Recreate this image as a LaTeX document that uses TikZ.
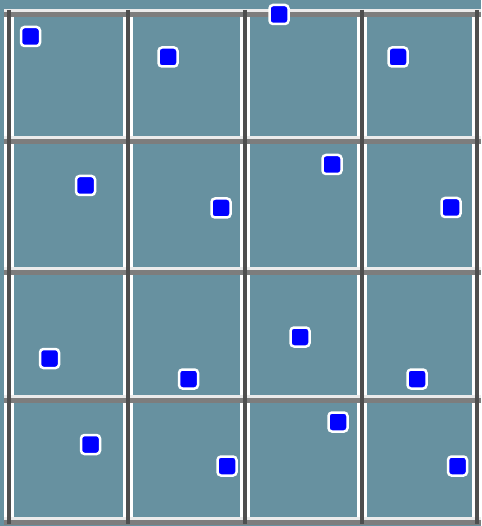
\documentclass[tikz,border=0pt]{standalone}
\definecolor{cellteal}{RGB}{103,145,160}
\definecolor{linedark}{RGB}{78,78,78}
\definecolor{linegrey}{RGB}{125,125,125}
\definecolor{linelight}{RGB}{235,235,235}
\begin{document}
\begin{tikzpicture}[x=1pt,y=-1pt,
  dot/.style={draw=white,fill=blue,line width=2.5pt,rounded corners=3.5pt,minimum size=19pt,inner sep=0pt}]
\fill[cellteal] (0,0) rectangle (481,526);
\useasboundingbox (0,0) rectangle (481,526);
\foreach \x in {9,128,245,362,477}
  \draw[white,line width=10pt] (\x,10) -- (\x,524);
\foreach \y in {13,140,271,399,521} {
  \draw[linelight,line width=3pt] (4,\y-2.5) -- (481,\y-2.5);
  \draw[linegrey,line width=5pt] (4,\y+1.5) -- (481,\y+1.5);
}
\foreach \x in {9,128,245,362,477}
  \draw[linedark,line width=4pt] (\x,10) -- (\x,524);
\node[dot] (d11) at (30.5,36.5) {};
\node[dot] (d12) at (168,57) {};
\node[dot] (d13) at (279,14.5) {};
\node[dot] (d14) at (398,57) {};
\node[dot] (d21) at (85.5,185.5) {};
\node[dot] (d22) at (221,208) {};
\node[dot] (d23) at (332,164.5) {};
\node[dot] (d24) at (451,207.5) {};
\node[dot] (d31) at (49.5,358.5) {};
\node[dot] (d32) at (188.5,379) {};
\node[dot] (d33) at (300,337) {};
\node[dot] (d34) at (417,379) {};
\node[dot] (d41) at (90.5,444.5) {};
\node[dot] (d42) at (227,466) {};
\node[dot] (d43) at (338,422) {};
\node[dot] (d44) at (457.5,466) {};
\end{tikzpicture}
\end{document}
